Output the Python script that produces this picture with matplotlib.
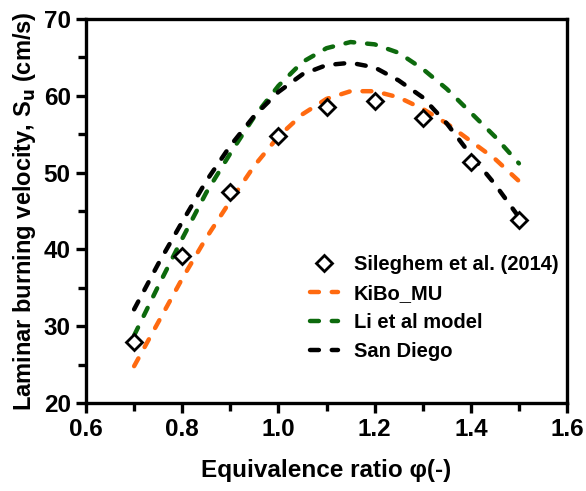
import numpy as np
import matplotlib
matplotlib.use('Agg')
import matplotlib.pyplot as plt
from matplotlib.ticker import MultipleLocator

plt.rcParams['font.family'] = ['Liberation Sans', 'DejaVu Sans']
plt.rcParams['font.weight'] = 'bold'

# experimental points
phi_exp = [0.7, 0.8, 0.9, 1.0, 1.1, 1.2, 1.3, 1.4, 1.5]
su_exp = [28.0, 39.1, 47.5, 54.8, 58.5, 59.3, 57.1, 51.4, 43.8]

# model curves
phi_mod = [0.70, 0.75, 0.80, 0.85, 0.90, 0.95, 1.00, 1.05, 1.10,
           1.15, 1.20, 1.25, 1.30, 1.35, 1.40, 1.45, 1.50]
su_kibo = [24.8, 30.5, 36.2, 41.5, 46.3, 50.9, 54.7, 57.6, 59.6,
           60.6, 60.6, 59.8, 58.3, 56.4, 54.1, 51.8, 48.9]
su_li = [28.8, 35.2, 41.4, 47.4, 52.5, 57.3, 61.3, 64.4, 66.2,
         67.0, 66.7, 65.6, 63.5, 60.9, 57.8, 54.7, 51.2]
su_sd = [32.2, 38.1, 43.6, 48.9, 53.5, 57.4, 60.5, 62.8, 64.0,
         64.3, 63.7, 62.0, 59.8, 56.4, 52.3, 48.5, 44.2]

fig = plt.figure(figsize=(5.86, 4.91), dpi=100)
ax = fig.add_axes([0.1468, 0.1792, 0.8208, 0.7821])

ls = dict(lw=3.2, dashes=(2.0, 2.9), dash_capstyle='round')
ax.plot(phi_exp, su_exp, 'D', ms=8.5, mfc='white', mec='black', mew=2,
        label='Sileghem et al. (2014)', zorder=5)
ax.plot(phi_mod, su_kibo, color='#ff6a10', label='KiBo_MU', **ls)
ax.plot(phi_mod, su_li, color='#0d6a0d', label='Li et al model', **ls)
ax.plot(phi_mod, su_sd, color='black', label='San Diego', **ls)

ax.set_xlim(0.6, 1.6)
ax.set_ylim(20, 70)
ax.xaxis.set_major_locator(MultipleLocator(0.2))
ax.xaxis.set_minor_locator(MultipleLocator(0.1))
ax.yaxis.set_major_locator(MultipleLocator(10))
ax.yaxis.set_minor_locator(MultipleLocator(5))
ax.xaxis.set_major_formatter(matplotlib.ticker.FormatStrFormatter('%.1f'))

for s in ax.spines.values():
    s.set_linewidth(2.4)
ax.tick_params(which='major', length=7, width=2.4, labelsize=17.5, pad=4)
ax.tick_params(which='minor', length=6, width=2.4)

ax.set_xlabel('Equivalence ratio φ(-)', fontsize=17.5, fontweight='bold', labelpad=13)
ax.set_ylabel('Laminar burning velocity, S$_\\mathbf{u}$ (cm/s)', fontsize=17,
              fontweight='bold', labelpad=4)

ax.legend(loc='lower right', bbox_to_anchor=(1.02, 0.062), frameon=False,
          handlelength=1.4, handletextpad=0.8, labelspacing=0.5,
          prop={'weight': 'bold', 'size': 14.5})

fig.savefig('out.png', dpi=100)
